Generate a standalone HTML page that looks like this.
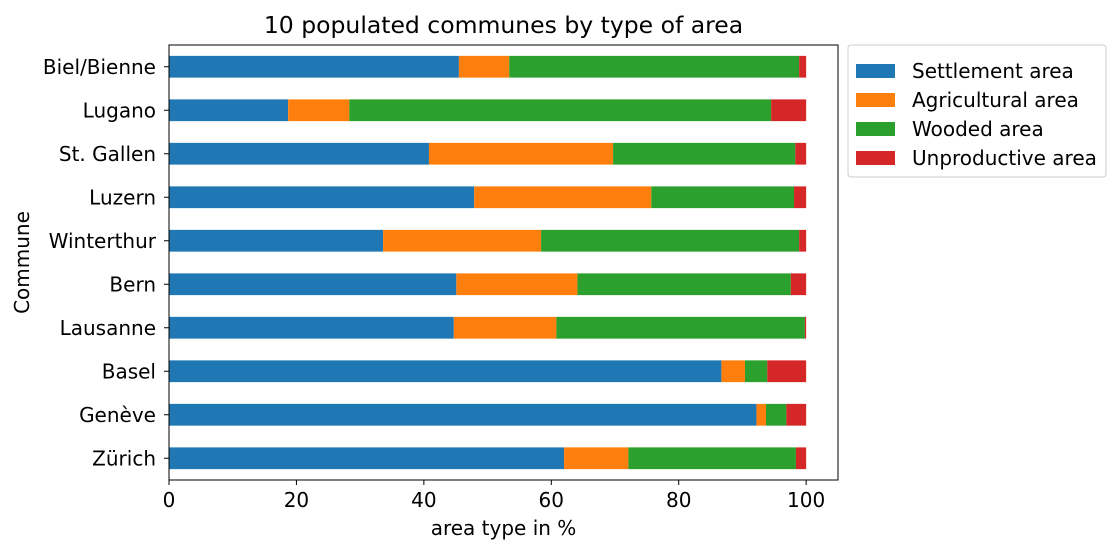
<!DOCTYPE html>
<html><head><meta charset="utf-8"><style>
body{margin:0;background:#fff;font-family:"Liberation Sans","DejaVu Sans",sans-serif;}
</style></head><body>
<svg id="chart" width="1120" height="554" xmlns="http://www.w3.org/2000/svg" font-family="DejaVu Sans, Liberation Sans, sans-serif"></svg>
<script>
const communes=["Zürich","Genève","Basel","Lausanne","Bern","Winterthur","Luzern","St. Gallen","Lugano","Biel/Bienne"];
const settlement=[62.0,92.2,86.7,44.7,45.1,33.6,47.9,40.8,18.7,45.5];
const agricultural=[10.1,1.5,3.7,16.1,19.0,24.8,27.8,28.9,9.6,7.9];
const wooded=[26.3,3.2,3.5,39.0,33.5,40.5,22.4,28.6,66.2,45.5];
const unproductive=[1.6,3.1,6.1,0.2,2.4,1.1,1.9,1.7,5.5,1.1];
const seriesNames=["Settlement area","Agricultural area","Wooded area","Unproductive area"];
const colors=["#1f77b4","#ff7f0e","#2ca02c","#d62728"];
const xTicks=[0,20,40,60,80,100];

const svg=document.getElementById('chart');
const NS="http://www.w3.org/2000/svg";
const L=169,R=838,T=45,B=480,XMAX=105;
const FS=20;
const x=v=>L+v*(R-L)/XMAX;
const n=communes.length, band=(B-T)/n;
const yc=i=>B-band*(i+0.5);
function mk(tag,attrs,parent){const e=document.createElementNS(NS,tag);for(const k in attrs)e.setAttribute(k,attrs[k]);(parent||svg).appendChild(e);return e;}
function txt(s,attrs,parent){const e=mk('text',attrs,parent);e.textContent=s;return e;}

const series=[settlement,agricultural,wooded,unproductive];
const g=mk('g',{});


for(let i=0;i<n;i++){
  let acc=0;
  series.forEach((s,k)=>{
    const r=mk('rect',{x:x(acc),y:yc(i)-band/4,width:x(acc+s[i])-x(acc),height:band/2,fill:colors[k]},g);
    
    
    acc+=s[i];
  });
}
const frame=mk('rect',{x:L,y:T,width:R-L,height:B-T,fill:'none',stroke:'#000','stroke-width':1});


xTicks.forEach(t=>{
  mk('line',{x1:x(t),x2:x(t),y1:B,y2:B+5,stroke:'#000'});
  const e=txt(t,{x:x(t),y:B+27,'text-anchor':'middle','font-size':FS});
  
  
});
communes.forEach((c,i)=>{
  mk('line',{x1:L-5,x2:L,y1:yc(i),y2:yc(i),stroke:'#000'});
  const e=txt(c,{x:L-13,y:yc(i)+7,'text-anchor':'end','font-size':FS});
  
  
});
let e=txt('10 populated communes by type of area',{x:(L+R)/2,y:33,'text-anchor':'middle','font-size':23.5});


e=txt('area type in %',{x:(L+R)/2,y:535,'text-anchor':'middle','font-size':FS});


e=txt('Commune',{x:22,y:(T+B)/2+7,'text-anchor':'middle','font-size':FS,transform:`rotate(-90 22 ${(T+B)/2})`});



const lg=mk('g',{});


mk('rect',{x:848,y:45,width:258,height:132,rx:3,fill:'#fff',stroke:'#ccc'},lg);
seriesNames.forEach((s,k)=>{
  const y=72+k*29;
  const sw=mk('rect',{x:856,y:y-8,width:39,height:14,fill:colors[k]},lg);
  
  
  const t=txt(s,{x:912,y:y+6,'font-size':FS},lg);
  
  
});
</script>
</body></html>
